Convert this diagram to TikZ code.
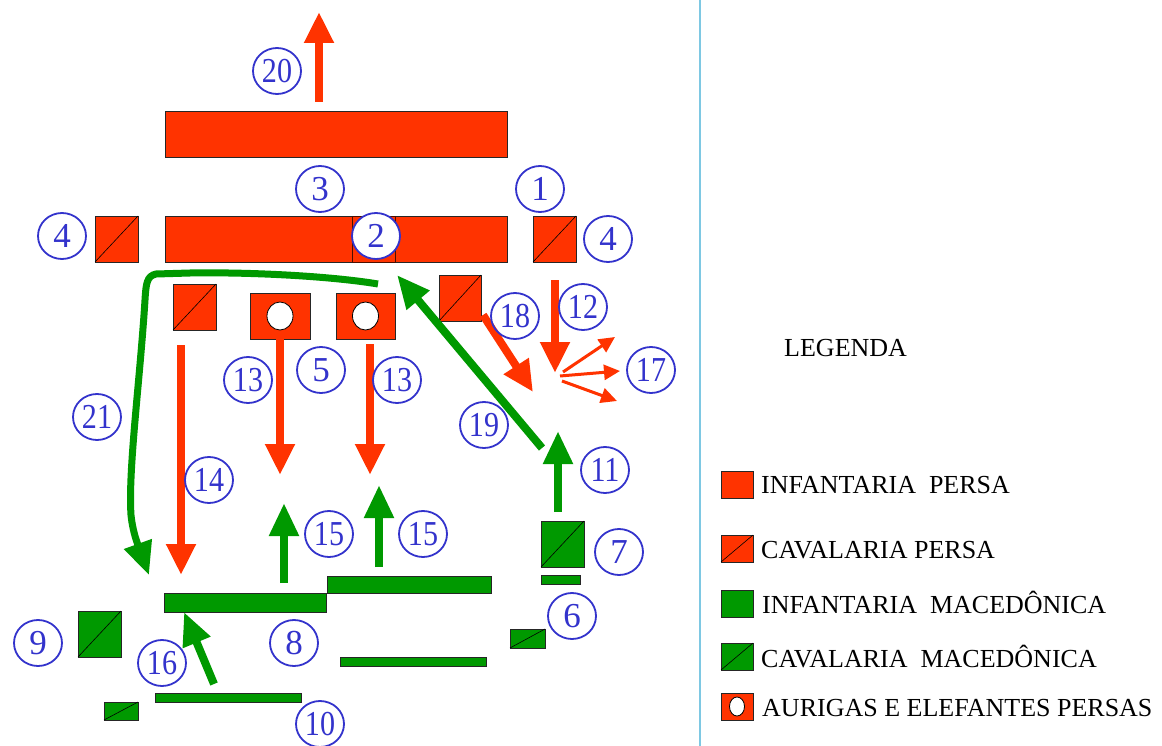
\documentclass[tikz,border=0pt]{standalone}
\usepackage{fontspec}
\setmainfont{Liberation Serif}
\usetikzlibrary{arrows.meta,shapes.geometric}
\definecolor{persa}{HTML}{FF3300}
\definecolor{mace}{HTML}{009900}
\definecolor{numblue}{HTML}{3333CC}
\definecolor{divider}{HTML}{7EC8E3}
\newcommand{\twod}[1]{\scalebox{0.86}[1]{#1}}
\begin{document}
\begin{tikzpicture}[x=1pt,y=-1pt,
  num/.style={ellipse, draw=numblue, line width=1.8pt, text=numblue, minimum width=48pt, minimum height=46pt, inner sep=0pt, font=\fontsize{35}{35}\selectfont},
  unit/.style={draw=black!85, line width=0.8pt, anchor=north west, inner sep=0pt, outer sep=0pt},
  infp/.style={unit, fill=persa},
  infm/.style={unit, fill=mace},
  chariot/.style={ellipse, draw=black, line width=0.8pt, fill=white, minimum width=26pt, minimum height=28pt, inner sep=0pt},
  diag/.style={draw=black, line width=0.6pt},
  redarrow/.style={draw=persa, line width=8pt, -{Triangle[width=28pt,length=31pt]}},
  greenarrow/.style={draw=mace, line width=8pt, -{Triangle[width=28pt,length=33pt]}},
  thinred/.style={draw=persa, line width=3pt, -{Triangle[width=15pt,length=16pt]}},
  legtext/.style={anchor=base west, inner sep=0pt, font=\fontsize{26}{26}\selectfont}
]
\useasboundingbox (0,0) rectangle (1162,746);
\fill[white] (0,0) rectangle (1162,746);

% divider
\coordinate (dtop) at (700,0);
\coordinate (dbot) at (700,746);
\draw[divider, line width=2pt] (dtop) -- (dbot);

% Persian lines
\node[infp, minimum width=342pt, minimum height=46pt] (r20) at (165,111) {};
\node[infp, minimum width=342pt, minimum height=46pt] (r3) at (165,216) {};
\node[infp, draw=black!70!persa, minimum width=43pt, minimum height=46pt] (r2) at (352,216) {};
\node[infp, minimum width=43pt, minimum height=46pt] (c4l) at (95,216) {};
\draw[diag] (c4l.south west) -- (c4l.north east);
\node[infp, minimum width=43pt, minimum height=46pt] (c4r) at (533,216) {};
\draw[diag] (c4r.south west) -- (c4r.north east);
\node[infp, minimum width=43pt, minimum height=46pt] (c14) at (173,284) {};
\draw[diag] (c14.south west) -- (c14.north east);
\node[infp, minimum width=42pt, minimum height=46pt] (c18) at (439,275) {};
\draw[diag] (c18.south west) -- (c18.north east);
\node[infp, minimum width=60pt, minimum height=46pt] (ch1) at (250,293) {};
\node[chariot] (e1) at (ch1.center) {};
\node[infp, minimum width=59pt, minimum height=46pt] (ch2) at (336,293) {};
\node[chariot] (e2) at (ch2.center) {};

% Macedonian units
\node[infm, minimum width=162pt, minimum height=19pt] (m8a) at (164,593) {};
\node[infm, minimum width=164pt, minimum height=17pt] (m8b) at (327,576) {};
\node[infm, minimum width=146pt, minimum height=9pt] (m8c) at (340,657) {};
\node[infm, minimum width=146pt, minimum height=9pt] (m10) at (155,693) {};
\node[infm, minimum width=43pt, minimum height=46pt] (m9) at (78,611) {};
\draw[diag] (m9.south west) -- (m9.north east);
\node[infm, minimum width=34pt, minimum height=18pt] (m10c) at (104,702) {};
\draw[diag] (m10c.south west) -- (m10c.north east);
\node[infm, minimum width=35pt, minimum height=19pt] (m6) at (510,629) {};
\draw[diag] (m6.south west) -- (m6.north east);
\node[infm, minimum width=43pt, minimum height=46pt] (m7) at (541,521) {};
\draw[diag] (m7.south west) -- (m7.north east);
\node[infm, minimum width=39pt, minimum height=9pt] (m7b) at (541,575) {};

% arrow coordinates
\coordinate (a20s) at (319,102); \coordinate (a20e) at (319,12);
\coordinate (a14s) at (181,345); \coordinate (a14e) at (181,575);
\coordinate (a13ls) at (280,339); \coordinate (a13le) at (280,475);
\coordinate (a13rs) at (370,344); \coordinate (a13re) at (370,475);
\coordinate (a12s) at (555,280); \coordinate (a12e) at (555,373);
\coordinate (a18s) at (483,315); \coordinate (a18e) at (533,392);
\coordinate (f0a) at (563,372); \coordinate (f1) at (615,337);
\coordinate (f0b) at (560,376); \coordinate (f2) at (620,371);
\coordinate (f0c) at (562,381); \coordinate (f3) at (617,401);
\coordinate (a19s) at (542,448); \coordinate (a19e) at (397,275);
\coordinate (a11s) at (558,512); \coordinate (a11e) at (558,431);
\coordinate (a15ls) at (284,583); \coordinate (a15le) at (284,503);
\coordinate (a15rs) at (379,567); \coordinate (a15re) at (379,485);
\coordinate (a16s) at (214,684); \coordinate (a16e) at (184,612);
\coordinate (a21s) at (378,284); \coordinate (a21e) at (149,575);

\draw[redarrow] (a20s) -- (a20e);
\draw[redarrow] (a14s) -- (a14e);
\draw[redarrow] (a13ls) -- (a13le);
\draw[redarrow] (a13rs) -- (a13re);
\draw[redarrow] (a12s) -- (a12e);
\draw[redarrow] (a18s) -- (a18e);
\draw[thinred] (f0a) -- (f1);
\draw[thinred] (f0b) -- (f2);
\draw[thinred] (f0c) -- (f3);
\draw[greenarrow] (a19s) -- (a19e);
\draw[greenarrow] (a11s) -- (a11e);
\draw[greenarrow] (a15ls) -- (a15le);
\draw[greenarrow] (a15rs) -- (a15re);
\draw[greenarrow] (a16s) -- (a16e);
\draw[draw=mace, line width=7pt, line join=round, -{Triangle[width=28pt,length=33pt]}]
  (a21s) .. controls (330,276) and (250,272) .. (190,273) -- (156,274)
  .. controls (147,276) and (146,283) .. (145,300)
  .. controls (140,380) and (128,470) .. (131,515)
  .. controls (133,535) and (140,550) .. (a21e);

% number labels
\node[num] (n20) at (277,71) {\twod{20}};
\node[num] (n3) at (320,189) {3};
\node[num] (n1) at (540,189) {1};
\node[num] (n4l) at (62,236) {4};
\node[num, fill=white] (n2) at (376,236) {2};
\node[num] (n4r) at (608,239) {4};
\node[num] (n12) at (583,307) {\twod{12}};
\node[num] (n18) at (515,316) {\twod{18}};
\node[num] (n13l) at (248,380) {\twod{13}};
\node[num] (n5) at (321,370) {5};
\node[num] (n13r) at (397,380) {\twod{13}};
\node[num] (n17) at (651,370) {\twod{17}};
\node[num] (n21) at (97,417) {\twod{21}};
\node[num] (n19) at (484,425) {\twod{19}};
\node[num] (n11) at (605,470) {\twod{11}};
\node[num] (n14) at (209,480) {\twod{14}};
\node[num] (n15l) at (329,534) {\twod{15}};
\node[num] (n15r) at (423,534) {\twod{15}};
\node[num] (n7) at (619,552) {7};
\node[num] (n6) at (572,616) {6};
\node[num] (n9) at (38,643) {9};
\node[num] (n8) at (294,643) {8};
\node[num] (n16) at (162,663) {\twod{16}};
\node[num] (n10) at (320,724) {\twod{10}};

% legend
\node[anchor=base west, inner sep=0pt, font=\fontsize{26}{26}\selectfont] (leg) at (784,356) {LEGENDA};
\node[infp, minimum width=32pt, minimum height=27pt] (l1) at (721,471) {};
\node[legtext] (t1) at (761,493) {INFANTARIA\ \ PERSA};
\node[infp, minimum width=32pt, minimum height=27pt] (l2) at (721,535) {};
\draw[diag] (l2.south west) -- (l2.north east);
\node[legtext] (t2) at (761,558) {CAVALARIA PERSA};
\node[infm, minimum width=32pt, minimum height=27pt] (l3) at (721,590) {};
\node[legtext] (t3) at (762,613) {INFANTARIA\ \ MACEDÔNICA};
\node[infm, minimum width=32pt, minimum height=27pt] (l4) at (721,643) {};
\draw[diag] (l4.south west) -- (l4.north east);
\node[legtext] (t4) at (761,667) {CAVALARIA\ \ MACEDÔNICA};
\node[infp, minimum width=32pt, minimum height=27pt] (l5) at (721,693) {};
\node[chariot, minimum width=15pt, minimum height=19pt] (l5e) at (l5.center) {};
\node[legtext] (t5) at (762,716) {AURIGAS E ELEFANTES PERSAS};
\end{tikzpicture}
\end{document}
